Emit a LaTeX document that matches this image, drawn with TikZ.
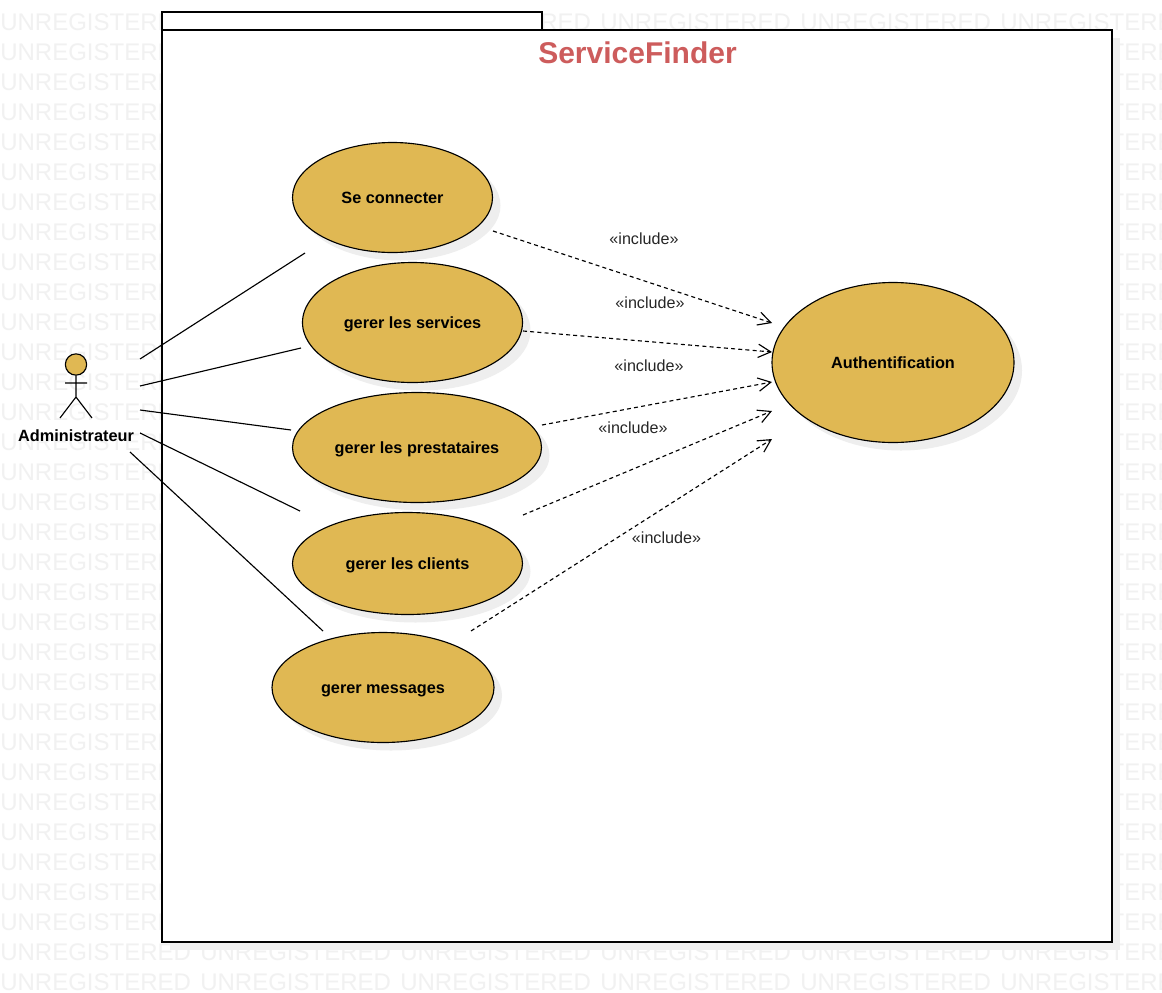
\documentclass[tikz,border=0pt]{standalone}
\usepackage{fontspec}
\setmainfont{Liberation Sans}
\usetikzlibrary{shapes.geometric,arrows.meta}
\definecolor{ucfill}{HTML}{E0B853}
\definecolor{titlered}{HTML}{CD5C5C}
\definecolor{wmark}{HTML}{F1F1F1}
\definecolor{shadowc}{HTML}{EEEEEE}
\tikzset{
  x=0.75pt,y=-0.75pt,
  uc/.style={ellipse,draw=black,fill=ucfill,line width=0.85pt,inner sep=0pt,text height=8.6pt,text depth=0pt,font=\fontsize{12.2}{14}\selectfont\bfseries},
  ucshadow/.style={ellipse,fill=shadowc,inner sep=0pt},
  assoc/.style={line width=0.85pt,black},
  incl/.style={line width=0.85pt,black,dash pattern=on 3pt off 2.4pt,-{Straight Barb[length=9.5pt,width=10pt]}},
  incllabel/.style={font=\fontsize{12.1}{14}\selectfont,text=black!85,inner sep=0pt},
  wm/.style={anchor=base west,inner sep=0pt,text=wmark,font=\fontsize{18}{20}\selectfont},
}
\begin{document}
\begin{tikzpicture}
\useasboundingbox (0,0) rectangle (1162,992);
\fill[white] (0,0) rectangle (1162,992);
\begin{scope}
\clip (0,0) rectangle (1162,992);
\foreach \r in {0,...,32}{
  \foreach \c in {0,...,5}{
    \node[wm] at ({200*\c},{30+30*\r}) {UNREGISTERED};
  }
}
\end{scope}
% frame
\fill[shadowc] (170,38) rectangle (1120,950);
\draw[line width=0.9pt,fill=white] (162,12) rectangle (542,30);
\draw[line width=0.9pt,fill=white] (162,30) rectangle (1112,942);
\node[inner sep=0pt,text=titlered,font=\fontsize{22.5}{26}\selectfont\bfseries] (title) at (637.5,53) {ServiceFinder};
% shadows
\node[ucshadow,minimum width=150pt,minimum height=82.5pt] at (400.5,205.5) {};
\node[ucshadow,minimum width=165pt,minimum height=90pt] at (420.5,330.5) {};
\node[ucshadow,minimum width=186.75pt,minimum height=82.5pt] at (425,455.5) {};
\node[ucshadow,minimum width=172.5pt,minimum height=76.5pt] at (415.5,571.5) {};
\node[ucshadow,minimum width=166.5pt,minimum height=82.5pt] at (391,695.5) {};
\node[ucshadow,minimum width=181.5pt,minimum height=120pt] at (901,370.5) {};
% use cases
\node[uc,minimum width=150pt,minimum height=82.5pt] (connect) at (392.5,197.5) {Se connecter};
\node[uc,minimum width=165pt,minimum height=90pt] (services) at (412.5,322.5) {gerer les services};
\node[uc,minimum width=186.75pt,minimum height=82.5pt] (prest) at (417,447.5) {gerer les prestataires};
\node[uc,minimum width=172.5pt,minimum height=76.5pt] (clients) at (407.5,563.5) {gerer les clients};
\node[uc,minimum width=166.5pt,minimum height=82.5pt] (messages) at (383,687.5) {gerer messages};
\node[uc,minimum width=181.5pt,minimum height=120pt] (auth) at (893,362.5) {Authentification};
% actor
\node[circle,draw=black,fill=ucfill,line width=0.85pt,minimum size=16pt,inner sep=0pt] (head) at (76,364.5) {};
\coordinate (hip) at (76,397);
\coordinate (armL) at (65,383);
\coordinate (armR) at (87,383);
\coordinate (legL) at (60,418);
\coordinate (legR) at (92,418);
\draw[assoc] (head.south) -- (hip) (armL) -- (armR) (legL) -- (hip) -- (legR);
\node[inner sep=0pt,font=\fontsize{12.2}{14}\selectfont\bfseries] (admin) at (76,435.5) {Administrateur};
% association ends
\coordinate (a1) at (140,359); \coordinate (b1) at (305,253);
\coordinate (a2) at (140,386); \coordinate (b2) at (301,348);
\coordinate (a3) at (140,410); \coordinate (b3) at (291,430);
\coordinate (a4) at (140,433); \coordinate (b4) at (300,511);
\coordinate (a5) at (130,452); \coordinate (b5) at (323,631);
\draw[assoc] (a1) -- (b1);
\draw[assoc] (a2) -- (b2);
\draw[assoc] (a3) -- (b3);
\draw[assoc] (a4) -- (b4);
\draw[assoc] (a5) -- (b5);
% include ends
\coordinate (c1) at (493,231); \coordinate (d1) at (772,323);
\coordinate (c2) at (523,331); \coordinate (d2) at (772,352);
\coordinate (c3) at (542,425); \coordinate (d3) at (772,382);
\coordinate (c4) at (523,515); \coordinate (d4) at (772,411);
\coordinate (c5) at (471,631); \coordinate (d5) at (772,439);
\draw[incl] (c1) -- (d1);
\draw[incl] (c2) -- (d2);
\draw[incl] (c3) -- (d3);
\draw[incl] (c4) -- (d4);
\draw[incl] (c5) -- (d5);
\node[incllabel] (l1) at (644,238.5) {«include»};
\node[incllabel] (l2) at (650,302.5) {«include»};
\node[incllabel] (l3) at (649,365.5) {«include»};
\node[incllabel] (l4) at (633,427.5) {«include»};
\node[incllabel] (l5) at (666.5,537.5) {«include»};
\end{tikzpicture}
\end{document}
